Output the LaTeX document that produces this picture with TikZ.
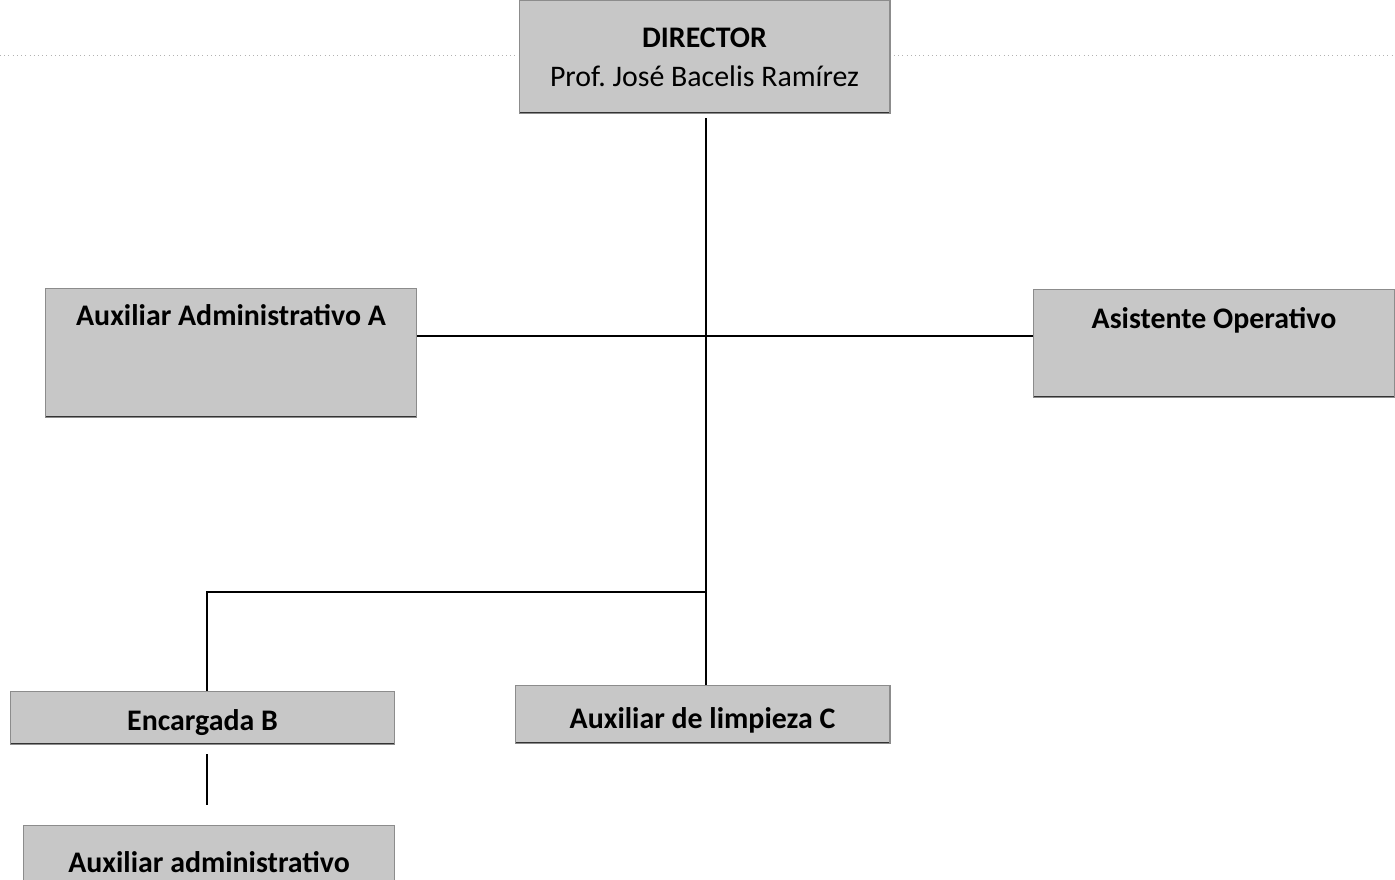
\documentclass[tikz,border=0pt]{standalone}
\usepackage{fontspec}
\setmainfont{Carlito}

\tikzset{
  box/.style={fill=black!22, draw=black!45, line width=0.6pt, inner sep=0pt, anchor=north,
    font=\fontsize{17}{22}\selectfont\bfseries,
    path picture={\draw[black!80, line width=1.6pt] (path picture bounding box.south west) -- (path picture bounding box.south east);}},
  link/.style={line width=1.2pt},
}

\begin{document}
\begin{tikzpicture}[x=0.02cm, y=-0.02cm]
      \clip (0,0) rectangle (1395,879);
      \draw [black!30, dotted] (0,55) -- (1395,55);
      \node [box, minimum width=7.42cm, minimum height=2.26cm, align=center] (dir) at (704.5,0) {DIRECTOR\\\mdseries Prof.\ José Bacelis Ramírez};
      \node [box, minimum width=7.44cm, text height=0.74cm, text depth=1.84cm] (auxA) at (231,288) {Auxiliar Administrativo A};
      \node [box, minimum width=7.24cm, text height=0.78cm, text depth=1.38cm] (asis) at (1214,289) {Asistente Operativo};
      \node [box, minimum width=7.7cm, text height=0.78cm, text depth=0.28cm] (enc) at (202.5,691) {Encargada B};
      \node [box, minimum width=7.5cm, text height=0.86cm, text depth=0.3cm] (limp) at (702.5,685) {Auxiliar de limpieza C};
      \node [box, minimum width=7.44cm, text height=0.94cm, text depth=0.56cm] (auxadm) at (209,825) {Auxiliar administrativo};
      \coordinate (spine) at (706,0);
      \coordinate (left) at (207,0);
      \coordinate (mid) at (706,336);
      \coordinate (fork) at (706,592);
      \draw [link, shorten <=0.08cm] (dir.south -| spine) -- (limp.north -| spine);
      \draw [link] (auxA.east |- mid) -- (asis.west |- mid);
      \draw [link] (fork) -| (enc.north -| left);
      \draw [link, shorten <=0.18cm, shorten >=0.4cm] (enc.south -| left) -- (auxadm.north -| left);
    \end{tikzpicture}
\end{document}
